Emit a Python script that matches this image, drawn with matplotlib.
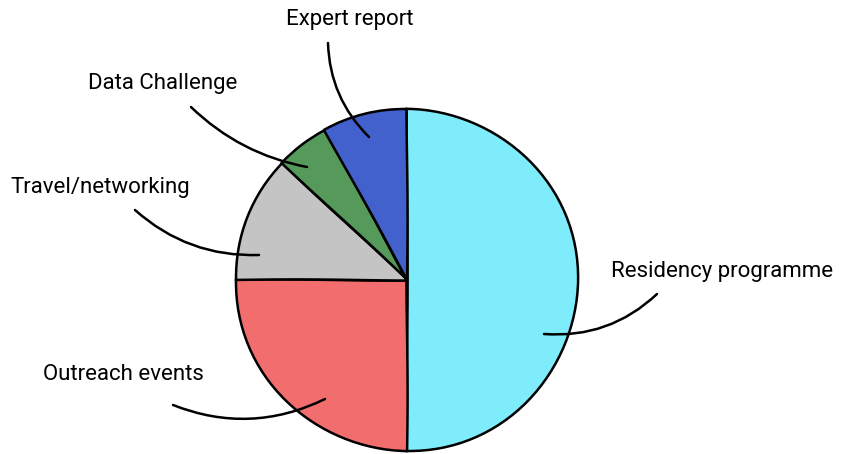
import numpy as np
import matplotlib
matplotlib.use("Agg")
import matplotlib.pyplot as plt

plt.rcParams['font.family'] = ['Roboto', 'DejaVu Sans']

# datos del pastel
labels = ['Residency programme', 'Outreach events', 'Travel/networking',
          'Data Challenge', 'Expert report']
values = [50, 25, 12, 5, 8]
colors = ['#7EECFA', '#F26E6E', '#C4C4C4', '#559A5A', '#4361CC']

# posicion del texto y del final de la linea (en pixeles de la imagen)
text_pos = [(722, 272), (123, 375), (100, 187), (163, 83), (350, 19)]
line_start = [(657, 294), (173, 405), (135, 210), (191, 107), (328, 43)]
line_end = [(544, 334), (325, 399), (259, 255), (307, 167), (369, 137)]
rads = [-0.22, 0.22, 0.2, 0.15, 0.2]

W, H = 843, 454
fig = plt.figure(figsize=(W / 100, H / 100), dpi=100)
ax = fig.add_axes([0, 0, 1, 1])
ax.set_xlim(0, W)
ax.set_ylim(0, H)
ax.set_aspect('equal')
ax.axis('off')

wedges, _ = ax.pie(values, colors=colors, startangle=90, counterclock=False,
                   center=(407, H - 280), radius=171,
                   wedgeprops=dict(edgecolor='black', linewidth=1.8))
for w in wedges:
    w.set_sketch_params(0.6, 250, 1)

for lab, tp, s, e, r in zip(labels, text_pos, line_start, line_end, rads):
    ax.text(tp[0], H - tp[1], lab, ha='center', va='center', fontsize=16)
    ax.annotate('', xy=(e[0], H - e[1]), xytext=(s[0], H - s[1]),
                arrowprops=dict(arrowstyle='-', color='black', lw=1.8,
                                shrinkA=0, shrinkB=0,
                                connectionstyle='arc3,rad=%s' % r))

ax.set_xlim(0, W)
ax.set_ylim(0, H)
fig.savefig('out.png', dpi=100)
